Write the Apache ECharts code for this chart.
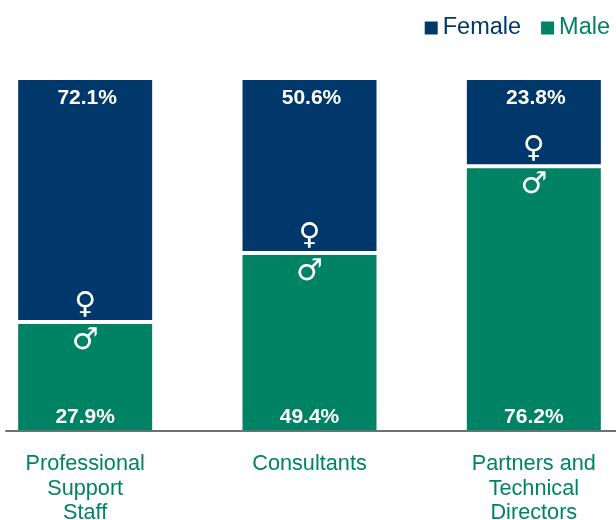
<!DOCTYPE html>
<html>
<head>
<meta charset="utf-8">
<style>
    html, body { margin: 0; padding: 0; background: #fff; }
    #chart { width: 616px; height: 520px; }
</style>
<script src="https://cdn.jsdelivr.net/npm/echarts@6/dist/echarts.min.js"></script>
</head>
<body>
<div id="chart"></div>
<script>
// 类别和数据
const categories = ['Professional\nSupport\nStaff', 'Consultants', 'Partners and\nTechnical\nDirectors'];
// bar heights as drawn in the picture (they differ a little from the printed labels)
const maleHeights = [31.1, 50.6, 75.1];
const femaleHeights = [68.9, 49.4, 24.9];
// printed labels
const maleLabels = ['27.9%', '49.4%', '76.2%'];
const femaleLabels = ['72.1%', '50.6%', '23.8%'];

const navy = '#00386b';
const green = '#008264';

let myCharts = echarts.init(document.querySelector('#chart'));

function barSeries(name, values, labels, color, position, distance, offsetX) {
    return {
        name: name,
        type: 'bar',
        stack: 'share',
        barWidth: 138,
        barGap: '-100%',
        data: values,
        itemStyle: { color: color, borderColor: '#fff', borderWidth: 2 },
        label: {
            show: true,
            position: position,
            distance: distance,
            offset: [offsetX, 0],
            color: '#fff',
            fontFamily: 'Liberation Sans',
            fontWeight: 'bold',
            fontSize: 21,
            formatter: function (p) { return labels[p.dataIndex]; }
        }
    };
}

// transparent bars on a second stack, only to carry the gender signs
function signSeries(name, values, sign, position, distance) {
    return {
        name: name,
        type: 'bar',
        stack: 'signs',
        barWidth: 138,
        barGap: '-100%',
        silent: true,
        data: values,
        itemStyle: { color: 'transparent' },
        label: {
            show: true,
            position: position,
            distance: distance,
            color: '#fff',
            fontFamily: 'DejaVu Sans',
            fontSize: 30,
            formatter: sign
        }
    };
}

let option = {
    animation: false,
    legend: {
        data: [
            { name: 'Female', textStyle: { color: navy } },
            { name: 'Male', textStyle: { color: green } }
        ],
        top: 11,
        right: 1,
        icon: 'rect',
        itemWidth: 15,
        itemHeight: 15,
        itemGap: 18,
        textStyle: { fontFamily: 'Liberation Sans', fontSize: 23.5, padding: [0, 0, 0, -1] }
    },
    // 第一个网格放柱子，第二个网格只画底部的轴线
    grid: [
        { left: -27, right: -30, top: 78, height: 354, outerBoundsMode: 'none' },
        { left: 6, right: 0, top: 78, height: 353, outerBoundsMode: 'none' }
    ],
    xAxis: [
        {
            type: 'category',
            gridIndex: 0,
            data: categories,
            axisLine: { show: false },
            axisTick: { show: false },
            axisLabel: {
                color: green,
                fontFamily: 'Liberation Sans',
                fontSize: 21.7,
                lineHeight: 24.5,
                margin: 20,
                interval: 0
            }
        },
        {
            type: 'category',
            gridIndex: 1,
            z: 5,
            data: [''],
            axisLine: { lineStyle: { color: '#6d7174', width: 2 } },
            axisTick: { show: false },
            axisLabel: { show: false }
        }
    ],
    yAxis: [
        { type: 'value', gridIndex: 0, min: 0, max: 100, show: false },
        { type: 'value', gridIndex: 1, min: 0, max: 100, show: false }
    ],
    series: [
        barSeries('Male', maleHeights, maleLabels, green, 'insideBottom', 4, 0),
        barSeries('Female', femaleHeights, femaleLabels, navy, 'insideTop', 10, 2),
        signSeries('MaleSign', maleHeights, '\u2642', 'insideTop', 4),
        signSeries('FemaleSign', femaleHeights, '\u2640', 'insideBottom', 2)
    ]
};
myCharts.setOption(option);
</script>
</body>
</html>
